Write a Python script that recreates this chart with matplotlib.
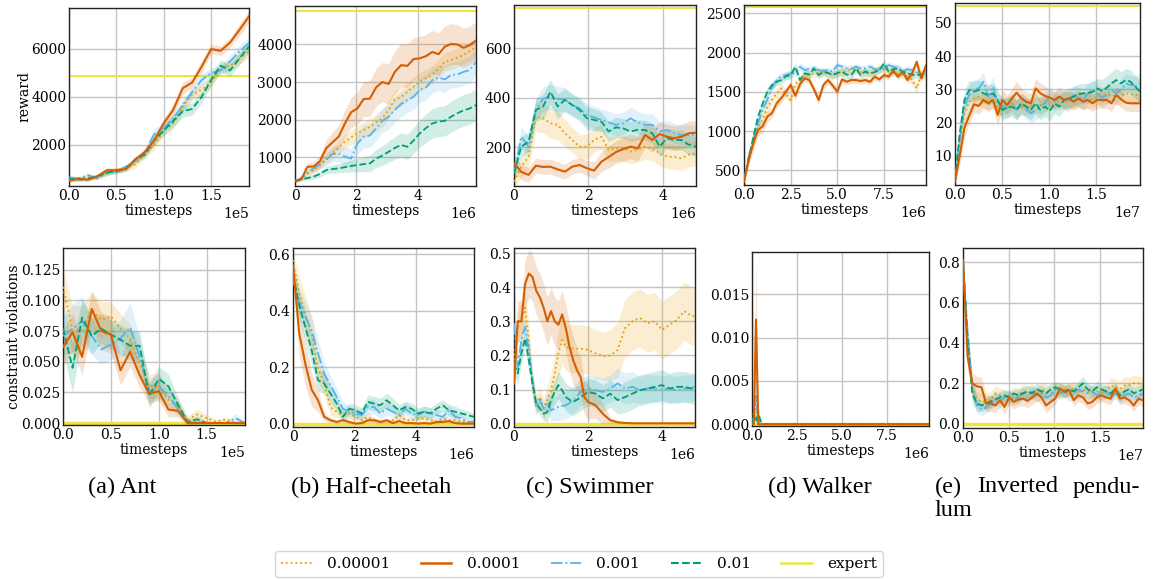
import numpy as np
import matplotlib
matplotlib.use('Agg')
import matplotlib.pyplot as plt
from matplotlib.lines import Line2D

# ---------------- data ----------------
lr_labels = ['0.00001', '0.0001', '0.001', '0.01', 'expert']
captions = ['(a) Ant', '(b) Half-cheetah', '(c) Swimmer', '(d) Walker']

# Ant, x in units of 1e5
ant_x = np.linspace(0, 1.9, 20)
ant_r_dot = [550, 600, 650, 700, 800, 950, 1000, 1200, 1600, 2000, 2600, 2900, 3600, 4100, 4300, 4600, 5200, 5300, 5600, 5900]
ant_r_solid = [500, 600, 550, 700, 950, 950, 1000, 1400, 1700, 2200, 2900, 3460, 4360, 4600, 5260, 5990, 5920, 6260, 6790, 7350]
ant_r_blue = [650, 600, 750, 600, 850, 900, 1100, 1300, 1700, 2450, 2700, 3100, 3650, 4200, 4700, 5000, 5100, 5470, 5900, 6240]
ant_r_green = [600, 550, 600, 700, 850, 900, 1000, 1400, 1600, 2200, 2600, 3000, 3400, 3500, 4000, 4700, 5300, 5100, 5600, 6100]
ant_r_sd_dot = [80, 80, 80, 80, 100, 100, 100, 150, 150, 200, 200, 250, 250, 250, 250, 200, 200, 250, 250, 250]
ant_r_sd_solid = [80, 80, 80, 80, 100, 100, 100, 120, 150, 200, 200, 250, 250, 200, 250, 200, 200, 200, 250, 250]
ant_r_sd_blue = [100, 80, 80, 80, 100, 100, 100, 100, 150, 250, 200, 200, 250, 250, 250, 200, 200, 250, 250, 250]
ant_r_sd_green = [80, 80, 80, 80, 100, 100, 100, 100, 150, 200, 200, 250, 250, 250, 250, 250, 250, 250, 250, 250]
ant_expert = 4870

ant_c_dot = [0.111, 0.076, 0.076, 0.092, 0.084, 0.087, 0.077, 0.069, 0.049, 0.030, 0.030, 0.019, 0.014, 0.003, 0.007, 0.004, 0.001, 0.003, 0.0, 0.0]
ant_c_solid = [0.062, 0.074, 0.054, 0.093, 0.075, 0.072, 0.043, 0.058, 0.039, 0.024, 0.026, 0.011, 0.010, 0.0, 0.0, 0.0, 0.0, 0.0, 0.0, 0.0]
ant_c_blue = [0.071, 0.077, 0.083, 0.071, 0.060, 0.064, 0.069, 0.078, 0.054, 0.026, 0.030, 0.022, 0.012, 0.001, 0.001, 0.0, 0.0, 0.0, 0.004, 0.0]
ant_c_green = [0.077, 0.045, 0.086, 0.071, 0.077, 0.072, 0.068, 0.063, 0.063, 0.022, 0.036, 0.030, 0.015, 0.001, 0.003, 0.0, 0.0, 0.0, 0.0, 0.0]
ant_c_sd_dot = [0.015, 0.02, 0.02, 0.015, 0.015, 0.012, 0.012, 0.012, 0.012, 0.01, 0.01, 0.008, 0.006, 0.003, 0.004, 0.003, 0.002, 0.002, 0.001, 0.001]
ant_c_sd_solid = [0.015, 0.015, 0.015, 0.015, 0.015, 0.015, 0.012, 0.012, 0.01, 0.008, 0.008, 0.006, 0.005, 0.002, 0.001, 0.0, 0.0, 0.0, 0.0, 0.0]
ant_c_sd_blue = [0.015, 0.02, 0.02, 0.015, 0.012, 0.012, 0.015, 0.02, 0.015, 0.01, 0.01, 0.008, 0.006, 0.002, 0.002, 0.001, 0.0, 0.0, 0.004, 0.0]
ant_c_sd_green = [0.02, 0.02, 0.015, 0.015, 0.012, 0.012, 0.012, 0.012, 0.012, 0.01, 0.01, 0.01, 0.006, 0.002, 0.003, 0.001, 0.0, 0.0, 0.0, 0.0]

# Half-cheetah, x in units of 1e6
hc_x = np.linspace(0, 5.9, 30)
hc_r_dot = [370, 450, 560, 660, 800, 950, 1100, 1250, 1420, 1530, 1650, 1730, 1810, 1930, 2040, 2260, 2540, 2600, 2740, 2880, 3010, 3100, 3190, 3350, 3540, 3580, 3650, 3720, 3820, 3940]
hc_r_solid = [370, 420, 750, 760, 900, 1240, 1400, 1550, 1900, 2200, 2300, 2550, 2560, 2860, 3000, 2950, 3270, 3450, 3430, 3610, 3630, 3690, 3800, 3740, 3940, 4010, 4000, 3910, 3980, 4100]
hc_r_blue = [370, 450, 600, 710, 820, 930, 1090, 1100, 1020, 970, 1370, 1550, 1580, 1770, 1970, 2080, 2260, 2420, 2520, 2610, 2790, 2860, 3050, 3120, 3070, 3190, 3200, 3270, 3320, 3540]
hc_r_green = [370, 420, 450, 490, 560, 660, 690, 710, 740, 770, 800, 820, 840, 970, 1050, 1150, 1250, 1330, 1280, 1450, 1640, 1780, 1900, 1950, 1970, 2080, 2170, 2250, 2300, 2390]
hc_r_sd_dot = [30, 50, 70, 90, 110, 130, 150, 170, 180, 190, 200, 210, 220, 230, 240, 240, 250, 250, 250, 250, 250, 250, 250, 250, 250, 250, 250, 250, 250, 250]
hc_r_sd_solid = [30, 60, 100, 130, 170, 220, 260, 300, 350, 400, 430, 460, 480, 500, 520, 540, 560, 570, 580, 580, 580, 580, 570, 560, 550, 540, 530, 520, 510, 500]
hc_r_sd_blue = [30, 50, 80, 100, 130, 160, 200, 220, 250, 270, 290, 300, 310, 320, 320, 330, 330, 330, 330, 330, 330, 340, 340, 340, 350, 350, 350, 350, 350, 350]
hc_r_sd_green = [30, 40, 60, 70, 80, 100, 110, 120, 140, 160, 180, 200, 220, 240, 260, 280, 300, 320, 340, 350, 360, 380, 390, 400, 400, 410, 410, 420, 420, 420]
hc_expert = 4900

hc_c_dot = [0.58, 0.46, 0.39, 0.32, 0.196, 0.142, 0.059, 0.042, 0.030, 0.036, 0.024, 0.012, 0.024, 0.012, 0.006, 0.006, 0.012, 0.030, 0.012, 0.012, 0.018, 0.018, 0.012, 0.006, 0.018, 0.012, 0.012, 0.006, 0.006, 0.006]
hc_c_solid = [0.56, 0.32, 0.21, 0.12, 0.083, 0.024, 0.012, 0.006, 0.012, 0.006, 0.0, 0.002, 0.012, 0.012, 0.006, 0.012, 0.002, 0.009, 0.002, 0.002, 0.0, 0.002, 0.0, 0.006, 0.006, 0.009, 0.002, 0.0, 0.0, 0.0]
hc_c_blue = [0.51, 0.43, 0.38, 0.33, 0.25, 0.178, 0.136, 0.095, 0.053, 0.042, 0.036, 0.030, 0.059, 0.059, 0.036, 0.053, 0.042, 0.030, 0.053, 0.036, 0.030, 0.042, 0.036, 0.030, 0.024, 0.047, 0.024, 0.018, 0.006, 0.006]
hc_c_green = [0.53, 0.42, 0.34, 0.26, 0.154, 0.142, 0.107, 0.071, 0.024, 0.053, 0.047, 0.036, 0.077, 0.071, 0.065, 0.083, 0.065, 0.047, 0.059, 0.053, 0.036, 0.042, 0.036, 0.053, 0.065, 0.047, 0.042, 0.036, 0.030, 0.024]
hc_c_sd_dot = [0.03, 0.06, 0.06, 0.06, 0.05, 0.04, 0.03, 0.02, 0.02, 0.02, 0.015, 0.01, 0.015, 0.01, 0.008, 0.008, 0.01, 0.02, 0.01, 0.01, 0.012, 0.012, 0.01, 0.008, 0.012, 0.01, 0.01, 0.008, 0.008, 0.008]
hc_c_sd_solid = [0.03, 0.08, 0.08, 0.06, 0.04, 0.015, 0.008, 0.005, 0.008, 0.005, 0.002, 0.003, 0.008, 0.008, 0.005, 0.008, 0.003, 0.006, 0.003, 0.003, 0.002, 0.003, 0.002, 0.005, 0.005, 0.006, 0.003, 0.001, 0.001, 0.001]
hc_c_sd_blue = [0.04, 0.05, 0.05, 0.05, 0.05, 0.04, 0.035, 0.03, 0.025, 0.02, 0.02, 0.02, 0.025, 0.025, 0.02, 0.025, 0.02, 0.02, 0.025, 0.02, 0.02, 0.02, 0.02, 0.02, 0.02, 0.02, 0.015, 0.012, 0.008, 0.008]
hc_c_sd_green = [0.04, 0.05, 0.05, 0.05, 0.04, 0.035, 0.03, 0.025, 0.02, 0.02, 0.02, 0.02, 0.025, 0.025, 0.025, 0.025, 0.025, 0.02, 0.02, 0.02, 0.02, 0.02, 0.02, 0.02, 0.02, 0.02, 0.02, 0.015, 0.015, 0.012]

# Swimmer, x in units of 1e6
sw_x = np.linspace(0, 4.89, 26)
sw_r_dot = [61, 121, 162, 323, 317, 296, 290, 256, 229, 202, 202, 229, 242, 189, 195, 195, 182, 190, 202, 195, 175, 162, 160, 155, 170, 175]
sw_r_solid = [135, 100, 88, 125, 120, 121, 110, 101, 121, 128, 115, 105, 141, 160, 180, 192, 202, 195, 249, 229, 253, 242, 236, 242, 256, 258]
sw_r_blue = [94, 242, 202, 350, 395, 404, 395, 391, 370, 357, 330, 320, 310, 300, 290, 296, 316, 300, 290, 290, 263, 269, 256, 249, 249, 250]
sw_r_green = [94, 202, 222, 350, 364, 424, 364, 391, 370, 350, 317, 310, 303, 263, 280, 276, 263, 270, 269, 256, 202, 236, 229, 229, 210, 202]
sw_r_sd_dot = [30, 40, 50, 60, 60, 60, 60, 55, 50, 50, 50, 50, 50, 50, 50, 50, 50, 50, 50, 50, 50, 50, 50, 50, 50, 50]
sw_r_sd_solid = [30, 30, 30, 30, 30, 30, 30, 30, 30, 30, 30, 35, 40, 45, 45, 50, 50, 50, 50, 50, 50, 50, 50, 50, 50, 50]
sw_r_sd_blue = [30, 40, 40, 45, 50, 50, 50, 50, 45, 45, 45, 45, 45, 45, 45, 45, 45, 45, 45, 45, 40, 40, 40, 40, 40, 40]
sw_r_sd_green = [30, 40, 40, 45, 50, 50, 50, 45, 45, 45, 45, 45, 40, 40, 40, 40, 40, 40, 40, 40, 40, 40, 40, 40, 40, 40]
sw_expert = 761

sw_c_x = [0.0, 0.1, 0.2, 0.3, 0.4, 0.5, 0.6, 0.7, 0.8, 0.9, 1.0, 1.1, 1.2, 1.3, 1.4, 1.5, 1.6, 1.7, 1.8, 1.9, 2.0,
          2.2, 2.4, 2.6, 2.8, 3.0, 3.2, 3.4, 3.6, 3.8, 4.0, 4.2, 4.4, 4.6, 4.8, 4.89]
sw_c_dot = [0.186, 0.28, 0.31, 0.34, 0.245, 0.108, 0.054, 0.078, 0.044, 0.069, 0.098, 0.147, 0.206, 0.245, 0.225, 0.222, 0.22, 0.22, 0.22, 0.218, 0.216,
            0.206, 0.198, 0.20, 0.216, 0.28, 0.30, 0.31, 0.294, 0.30, 0.275, 0.29, 0.304, 0.33, 0.316, 0.314]
sw_c_solid = [0.118, 0.30, 0.30, 0.41, 0.44, 0.43, 0.39, 0.37, 0.34, 0.30, 0.33, 0.30, 0.29, 0.32, 0.28, 0.225, 0.186, 0.157, 0.137, 0.078, 0.064,
              0.054, 0.029, 0.010, 0.004, 0.002, 0.001, 0.001, 0.001, 0.001, 0.001, 0.001, 0.001, 0.001, 0.001, 0.001]
sw_c_blue = [0.294, 0.167, 0.245, 0.284, 0.216, 0.127, 0.049, 0.069, 0.044, 0.064, 0.039, 0.044, 0.049, 0.052, 0.054, 0.060, 0.069, 0.080, 0.093, 0.098, 0.103,
             0.098, 0.093, 0.103, 0.118, 0.103, 0.108, 0.098, 0.103, 0.103, 0.10, 0.103, 0.098, 0.103, 0.103, 0.113]
sw_c_green = [0.176, 0.147, 0.206, 0.25, 0.186, 0.118, 0.059, 0.044, 0.029, 0.034, 0.069, 0.093, 0.113, 0.098, 0.078, 0.070, 0.064, 0.070, 0.078, 0.085, 0.093,
              0.088, 0.074, 0.088, 0.069, 0.078, 0.088, 0.098, 0.103, 0.108, 0.113, 0.103, 0.108, 0.108, 0.103, 0.10]
sw_c_sd_dot = [0.04, 0.05, 0.05, 0.05, 0.05, 0.04, 0.03, 0.03, 0.03, 0.04, 0.05, 0.06, 0.07, 0.07, 0.07, 0.07, 0.07, 0.07, 0.07, 0.07, 0.07,
               0.07, 0.07, 0.075, 0.08, 0.085, 0.085, 0.085, 0.085, 0.085, 0.085, 0.085, 0.085, 0.085, 0.085, 0.085]
sw_c_sd_solid = [0.05, 0.06, 0.06, 0.07, 0.07, 0.07, 0.07, 0.07, 0.07, 0.07, 0.07, 0.07, 0.07, 0.07, 0.07, 0.07, 0.07, 0.06, 0.06, 0.05, 0.05,
                 0.04, 0.03, 0.01, 0.005, 0.002, 0.001, 0.001, 0.001, 0.001, 0.001, 0.001, 0.001, 0.001, 0.001, 0.001]
sw_c_sd_blue = [0.03, 0.03, 0.03, 0.03, 0.03, 0.03, 0.02, 0.02, 0.02, 0.03, 0.03, 0.035, 0.04, 0.04, 0.04, 0.04, 0.04, 0.04, 0.04, 0.04, 0.04,
                0.04, 0.04, 0.04, 0.045, 0.045, 0.045, 0.04, 0.04, 0.04, 0.04, 0.04, 0.04, 0.04, 0.04, 0.04]
sw_c_sd_green = [0.03, 0.03, 0.03, 0.03, 0.03, 0.03, 0.02, 0.02, 0.02, 0.03, 0.03, 0.035, 0.04, 0.04, 0.04, 0.04, 0.04, 0.04, 0.04, 0.04, 0.04,
                 0.04, 0.04, 0.04, 0.04, 0.045, 0.045, 0.045, 0.045, 0.045, 0.045, 0.045, 0.045, 0.045, 0.045, 0.045]

# Walker, x in units of 1e6
wk_x = np.linspace(0, 9.78, 40)
wk_r_dot = [360, 620, 850, 1050, 1150, 1300, 1400, 1480, 1544, 1470, 1396, 1600, 1650, 1713, 1720, 1734, 1740, 1755, 1730, 1713,
            1740, 1755, 1760, 1798, 1790, 1755, 1740, 1734, 1760, 1798, 1780, 1755, 1740, 1734, 1720, 1700, 1650, 1544, 1734, 1692]
wk_r_solid = [360, 635, 846, 1015, 1060, 1184, 1230, 1354, 1420, 1502, 1586, 1450, 1600, 1671, 1650, 1530, 1396, 1586, 1650, 1580,
              1502, 1658, 1628, 1650, 1650, 1637, 1650, 1628, 1692, 1658, 1713, 1692, 1768, 1692, 1755, 1650, 1734, 1882, 1671, 1840]
wk_r_blue = [360, 680, 900, 1100, 1269, 1400, 1550, 1650, 1700, 1713, 1734, 1740, 1819, 1777, 1790, 1798, 1777, 1760, 1777, 1760,
             1840, 1820, 1798, 1790, 1819, 1798, 1800, 1819, 1790, 1777, 1800, 1840, 1819, 1800, 1755, 1790, 1777, 1750, 1713, 1798]
wk_r_green = [360, 650, 920, 1180, 1350, 1500, 1586, 1628, 1650, 1700, 1713, 1819, 1650, 1734, 1720, 1798, 1713, 1755, 1740, 1713,
              1740, 1755, 1720, 1713, 1798, 1713, 1760, 1734, 1750, 1777, 1861, 1755, 1790, 1798, 1755, 1740, 1713, 1720, 1713, 1755]
wk_r_sd_dot = [30, 60, 80, 90, 90, 80, 70, 70, 60, 60, 60, 50, 50, 50, 50, 50, 50, 50, 50, 50,
               50, 50, 50, 50, 50, 50, 50, 50, 50, 50, 50, 50, 50, 50, 50, 50, 60, 70, 60, 60]
wk_r_sd_solid = [30, 60, 80, 80, 80, 70, 60, 60, 60, 60, 60, 60, 50, 50, 50, 50, 60, 50, 50, 50,
                 50, 50, 40, 40, 40, 40, 40, 40, 40, 40, 40, 40, 40, 40, 40, 40, 40, 50, 50, 50]
wk_r_sd_blue = [30, 60, 70, 70, 70, 60, 50, 50, 50, 50, 50, 50, 50, 50, 40, 40, 40, 40, 40, 40,
                40, 40, 40, 40, 40, 40, 40, 40, 40, 40, 40, 40, 40, 40, 40, 40, 40, 40, 40, 40]
wk_r_sd_green = [30, 60, 70, 70, 70, 60, 50, 50, 50, 50, 50, 50, 50, 50, 50, 50, 50, 50, 50, 50,
                 50, 50, 50, 50, 50, 50, 50, 50, 50, 50, 50, 50, 50, 50, 50, 50, 50, 50, 50, 50]
wk_expert = 2575

wk_c_x = [0.0, 0.1, 0.22, 0.35, 0.45, 0.55, 0.7, 1.0, 2.0, 3.0, 4.0, 5.0, 6.0, 7.0, 8.0, 9.0, 9.83]
wk_c_dot = [0.0, 0.0015, 0.0018, 0.0005, 0.0002, 0.0, 0.0, 0.0, 0.0, 0.0, 0.0, 0.0, 0.0, 0.0, 0.0, 0.0, 0.0]
wk_c_solid = [0.0, 0.0, 0.0121, 0.0, 0.0, 0.0, 0.0, 0.0, 0.0, 0.0, 0.0, 0.0, 0.0, 0.0, 0.0, 0.0, 0.0]
wk_c_blue = [0.0, 0.0005, 0.0033, 0.0003, 0.0, 0.0, 0.0, 0.0, 0.0, 0.0, 0.0, 0.0, 0.0, 0.0, 0.0, 0.0, 0.0]
wk_c_green = [0.0, 0.0012, 0.0003, 0.0012, 0.0006, 0.0, 0.0, 0.0, 0.0, 0.0, 0.0, 0.0, 0.0, 0.0, 0.0, 0.0, 0.0]
wk_c_sd_dot = [0.0, 0.001, 0.0012, 0.0004, 0.0002, 0.0, 0.0, 0.0, 0.0, 0.0, 0.0, 0.0, 0.0, 0.0, 0.0, 0.0, 0.0]
wk_c_sd_solid = [0.0, 0.0005, 0.007, 0.0005, 0.0, 0.0, 0.0, 0.0, 0.0, 0.0, 0.0, 0.0, 0.0, 0.0, 0.0, 0.0, 0.0]
wk_c_sd_blue = [0.0, 0.0005, 0.002, 0.0003, 0.0, 0.0, 0.0, 0.0, 0.0, 0.0, 0.0, 0.0, 0.0, 0.0, 0.0, 0.0, 0.0]
wk_c_sd_green = [0.0, 0.0008, 0.0003, 0.0008, 0.0004, 0.0, 0.0, 0.0, 0.0, 0.0, 0.0, 0.0, 0.0, 0.0, 0.0, 0.0, 0.0]

# Inverted pendulum, x in units of 1e7
ip_x = np.linspace(0, 1.97, 40)
ip_r_dot = [2.3, 14.8, 22.8, 26.3, 27.3, 27.8, 26.8, 26.3, 26.8, 24.3, 24.8, 25.3, 25.8, 24.3, 24.5, 24.8, 24.8, 25.3, 25.3, 25.8,
            26.3, 26.8, 26.3, 26.8, 26.3, 26.5, 26.8, 26.8, 26.8, 27.0, 27.8, 27.8, 28.3, 28.3, 27.8, 28.0, 28.8, 28.5, 28.3, 28.3]
ip_r_solid = [2.3, 10.0, 18.5, 22.0, 25.5, 25.0, 26.8, 25.8, 26.8, 22.3, 26.8, 25.3, 27.3, 29.0, 27.3, 26.3, 25.8, 30.3, 28.8, 28.0,
              27.5, 26.8, 27.8, 26.8, 27.3, 26.3, 27.3, 26.3, 26.8, 25.8, 26.8, 26.8, 26.8, 25.8, 28.3, 27.0, 26.0, 25.8, 25.8, 25.8]
ip_r_blue = [2.8, 14.8, 25.0, 28.3, 30.0, 30.3, 32.3, 27.8, 30.8, 25.8, 25.0, 24.3, 25.8, 23.8, 25.8, 24.0, 22.8, 23.8, 24.8, 26.0,
             27.8, 26.3, 27.8, 26.8, 26.3, 28.3, 27.8, 26.8, 28.8, 29.8, 28.8, 27.5, 28.5, 29.8, 28.8, 30.0, 31.8, 31.3, 31.0, 31.8]
ip_r_green = [2.8, 16.8, 26.8, 29.8, 29.3, 29.8, 28.8, 28.3, 28.8, 26.8, 23.8, 24.5, 24.8, 23.8, 25.8, 24.8, 23.8, 25.8, 23.8, 24.8,
              23.5, 25.8, 24.8, 26.8, 27.3, 27.8, 28.5, 28.8, 28.8, 29.3, 30.3, 29.5, 30.5, 31.8, 32.8, 31.8, 32.8, 32.3, 30.8, 29.3]
ip_r_sd_dot = [1.0, 3.0, 3.0, 2.5, 2.5, 2.5, 2.5, 2.5, 2.5, 2.5, 2.5, 2.5, 2.5, 2.5, 2.5, 2.5, 2.5, 2.5, 2.5, 2.5,
               2.5, 2.5, 2.5, 2.5, 2.5, 2.5, 2.5, 2.5, 2.5, 2.5, 2.5, 2.5, 2.5, 2.5, 2.5, 2.5, 2.5, 2.5, 2.5, 2.5]
ip_r_sd_solid = [1.0, 3.0, 3.0, 2.5, 2.5, 2.5, 2.5, 2.5, 2.5, 3.0, 3.0, 3.0, 3.0, 3.5, 3.0, 3.0, 3.0, 3.0, 3.0, 3.0,
                 2.5, 2.5, 2.5, 2.5, 2.5, 2.5, 2.5, 2.5, 2.5, 2.5, 2.5, 2.5, 2.5, 2.5, 2.5, 2.5, 2.5, 2.5, 2.5, 2.5]
ip_r_sd_blue = [1.0, 3.0, 3.0, 3.0, 3.0, 3.0, 3.0, 3.0, 3.0, 3.0, 3.0, 3.0, 3.0, 3.0, 3.0, 3.0, 3.0, 3.0, 3.0, 3.0,
                3.0, 3.0, 3.0, 3.0, 3.0, 3.0, 3.0, 3.0, 3.0, 3.0, 3.0, 3.0, 3.0, 3.0, 3.0, 3.0, 3.0, 3.0, 3.0, 3.0]
ip_r_sd_green = [1.0, 3.0, 3.0, 3.0, 3.0, 3.0, 3.0, 3.0, 3.0, 3.0, 3.0, 3.0, 3.0, 3.0, 3.0, 3.0, 3.0, 3.0, 3.0, 3.0,
                 3.0, 3.0, 3.0, 3.0, 3.0, 3.0, 3.0, 3.0, 3.0, 3.0, 3.0, 3.5, 3.5, 3.5, 3.5, 3.5, 3.5, 3.5, 3.5, 3.5]
ip_expert = 55.1

ip_c_dot = [0.79, 0.40, 0.17, 0.12, 0.11, 0.11, 0.12, 0.15, 0.14, 0.13, 0.12, 0.13, 0.14, 0.16, 0.15, 0.16, 0.14, 0.17, 0.16, 0.15,
            0.17, 0.16, 0.17, 0.16, 0.18, 0.16, 0.17, 0.16, 0.15, 0.16, 0.15, 0.16, 0.19, 0.18, 0.17, 0.19, 0.19, 0.20, 0.20, 0.19]
ip_c_solid = [0.81, 0.33, 0.20, 0.185, 0.18, 0.10, 0.10, 0.09, 0.116, 0.083, 0.13, 0.108, 0.12, 0.124, 0.113, 0.13, 0.15, 0.13, 0.09, 0.108,
              0.124, 0.174, 0.157, 0.166, 0.116, 0.14, 0.13, 0.10, 0.108, 0.13, 0.14, 0.13, 0.124, 0.174, 0.124, 0.13, 0.116, 0.09, 0.124, 0.116]
ip_c_blue = [0.80, 0.45, 0.18, 0.09, 0.07, 0.08, 0.10, 0.12, 0.11, 0.13, 0.14, 0.12, 0.13, 0.15, 0.13, 0.16, 0.14, 0.15, 0.13, 0.14,
             0.17, 0.15, 0.16, 0.14, 0.15, 0.17, 0.16, 0.15, 0.16, 0.14, 0.15, 0.16, 0.14, 0.15, 0.13, 0.14, 0.15, 0.13, 0.14, 0.15]
ip_c_green = [0.80, 0.42, 0.15, 0.10, 0.09, 0.10, 0.11, 0.12, 0.13, 0.14, 0.13, 0.15, 0.14, 0.15, 0.16, 0.15, 0.17, 0.16, 0.15, 0.17,
              0.18, 0.17, 0.16, 0.17, 0.16, 0.18, 0.20, 0.17, 0.16, 0.18, 0.17, 0.16, 0.15, 0.17, 0.14, 0.16, 0.17, 0.15, 0.16, 0.17]
ip_c_sd_dot = [0.02, 0.06, 0.05, 0.04, 0.04, 0.04, 0.04, 0.04, 0.035, 0.035, 0.035, 0.035, 0.035, 0.035, 0.035, 0.035, 0.035, 0.035, 0.035, 0.035,
               0.035, 0.035, 0.035, 0.035, 0.035, 0.035, 0.035, 0.035, 0.035, 0.035, 0.035, 0.035, 0.04, 0.04, 0.04, 0.04, 0.04, 0.04, 0.04, 0.04]
ip_c_sd_solid = [0.02, 0.06, 0.05, 0.05, 0.05, 0.04, 0.04, 0.035, 0.035, 0.035, 0.035, 0.035, 0.035, 0.035, 0.035, 0.035, 0.035, 0.035, 0.035, 0.035,
                 0.03, 0.03, 0.03, 0.03, 0.03, 0.03, 0.03, 0.03, 0.03, 0.03, 0.03, 0.03, 0.03, 0.03, 0.03, 0.03, 0.03, 0.03, 0.03, 0.03]
ip_c_sd_blue = [0.02, 0.06, 0.05, 0.04, 0.03, 0.03, 0.03, 0.03, 0.03, 0.03, 0.03, 0.03, 0.03, 0.03, 0.03, 0.03, 0.03, 0.03, 0.03, 0.03,
                0.03, 0.03, 0.03, 0.03, 0.03, 0.03, 0.03, 0.03, 0.03, 0.03, 0.03, 0.03, 0.03, 0.03, 0.03, 0.03, 0.03, 0.03, 0.03, 0.03]
ip_c_sd_green = [0.02, 0.06, 0.05, 0.04, 0.03, 0.03, 0.03, 0.03, 0.03, 0.03, 0.03, 0.03, 0.03, 0.03, 0.03, 0.03, 0.03, 0.03, 0.03, 0.03,
                 0.03, 0.03, 0.03, 0.03, 0.03, 0.03, 0.035, 0.03, 0.03, 0.03, 0.03, 0.03, 0.03, 0.03, 0.03, 0.03, 0.03, 0.03, 0.03, 0.03]

# ---------------- style ----------------
plt.rcParams['font.family'] = 'DejaVu Serif'
plt.rcParams['font.size'] = 10

C_DOT = '#e69f00'
C_SOLID = '#d55e00'
C_BLUE = '#56b4e9'
C_GREEN = '#009e73'
C_EXP = '#f0e442'

STYLES = [(C_DOT, ':', 1.3), (C_BLUE, '-.', 1.3), (C_GREEN, '--', 1.3), (C_SOLID, '-', 1.5)]

W, H = 1154, 579
fig = plt.figure(figsize=(W / 100, H / 100), dpi=100)


def box(l, t, r, b):
    return [l / W, 1 - b / H, (r - l) / W, (b - t) / H]


def panel(rect, x, scale, series, sds, expert, exp_lw, xlim, ylim, xticks, yticks, ylabel=None):
    ax = fig.add_axes(box(*rect))
    x = np.asarray(x) * scale
    ax.axhline(expert, color=C_EXP, lw=exp_lw, zorder=1.5)
    for (col, ls, lw), y, sd in zip(STYLES, series, sds):
        y = np.asarray(y)
        sd = np.asarray(sd)
        ax.fill_between(x, y - sd, y + sd, color=col, alpha=0.18, lw=0, zorder=2)
        ax.plot(x, y, color=col, ls=ls, lw=lw, zorder=3)
    ax.set_xlim(0, xlim * scale)
    ax.set_ylim(*ylim)
    ax.set_xticks(np.asarray(xticks) * scale)
    ax.set_yticks(yticks)
    ax.ticklabel_format(axis='x', style='sci', scilimits=(0, 0))
    ax.grid(True, color='#c4c4c4', lw=1.0)
    ax.set_axisbelow(True)
    ax.tick_params(length=0, pad=2, labelsize=10)
    for s in ax.spines.values():
        s.set_color('#222222')
        s.set_linewidth(1.0)
    ax.set_xlabel('timesteps', labelpad=1)
    if ylabel:
        ax.set_ylabel(ylabel, labelpad=0)
    return ax


# reward row
panel((69, 8, 249, 186), ant_x, 1e5, [ant_r_dot, ant_r_blue, ant_r_green, ant_r_solid],
      [ant_r_sd_dot, ant_r_sd_blue, ant_r_sd_green, ant_r_sd_solid], ant_expert, 1.5,
      1.9, (292, 7700), [0, 0.5, 1.0, 1.5], [2000, 4000, 6000], 'reward')
panel((295, 6, 476, 186), hc_x, 1e6, [hc_r_dot, hc_r_blue, hc_r_green, hc_r_solid],
      [hc_r_sd_dot, hc_r_sd_blue, hc_r_sd_green, hc_r_sd_solid], hc_expert, 1.5,
      5.9, (240, 5020), [0, 2, 4], [1000, 2000, 3000, 4000])
panel((514, 5, 696, 186), sw_x, 1e6, [sw_r_dot, sw_r_blue, sw_r_green, sw_r_solid],
      [sw_r_sd_dot, sw_r_sd_blue, sw_r_sd_green, sw_r_sd_solid], sw_expert, 1.5,
      4.89, (43, 774), [0, 2, 4], [200, 400, 600])
panel((744, 5, 926, 185), wk_x, 1e6, [wk_r_dot, wk_r_blue, wk_r_green, wk_r_solid],
      [wk_r_sd_dot, wk_r_sd_blue, wk_r_sd_green, wk_r_sd_solid], wk_expert, 1.5,
      9.78, (313, 2606), [0, 2.5, 5.0, 7.5], [500, 1000, 1500, 2000, 2500])
panel((955, 3, 1140, 185), ip_x, 1e7, [ip_r_dot, ip_r_blue, ip_r_green, ip_r_solid],
      [ip_r_sd_dot, ip_r_sd_blue, ip_r_sd_green, ip_r_sd_solid], ip_expert, 1.5,
      1.97, (1.2, 56), [0, 0.5, 1.0, 1.5], [10, 20, 30, 40, 50])

# constraint row
panel((63, 248, 245, 425), ant_x, 1e5, [ant_c_dot, ant_c_blue, ant_c_green, ant_c_solid],
      [ant_c_sd_dot, ant_c_sd_blue, ant_c_sd_green, ant_c_sd_solid], 0, 2.5,
      1.9, (-0.0016, 0.1427), [0, 0.5, 1.0, 1.5], [0, 0.025, 0.05, 0.075, 0.1, 0.125],
      'constraint violations')
panel((293, 248, 474, 427), hc_x, 1e6, [hc_c_dot, hc_c_blue, hc_c_green, hc_c_solid],
      [hc_c_sd_dot, hc_c_sd_blue, hc_c_sd_green, hc_c_sd_solid], 0, 2.5,
      5.9, (-0.012, 0.623), [0, 2, 4], [0, 0.2, 0.4, 0.6])
panel((514, 248, 695, 427), sw_c_x, 1e6, [sw_c_dot, sw_c_blue, sw_c_green, sw_c_solid],
      [sw_c_sd_dot, sw_c_sd_blue, sw_c_sd_green, sw_c_sd_solid], 0, 2.5,
      4.89, (-0.0098, 0.515), [0, 2, 4], [0, 0.1, 0.2, 0.3, 0.4, 0.5])
panel((752, 252, 929, 426), wk_c_x, 1e6, [wk_c_dot, wk_c_blue, wk_c_green, wk_c_solid],
      [wk_c_sd_dot, wk_c_sd_blue, wk_c_sd_green, wk_c_sd_solid], 0, 2.5,
      9.83, (-0.0002, 0.0199), [0, 2.5, 5.0, 7.5], [0, 0.005, 0.01, 0.015])
panel((963, 248, 1143, 428), ip_x, 1e7, [ip_c_dot, ip_c_blue, ip_c_green, ip_c_solid],
      [ip_c_sd_dot, ip_c_sd_blue, ip_c_sd_green, ip_c_sd_solid], 0, 2.5,
      1.97, (-0.0215, 0.87), [0, 0.5, 1.0, 1.5], [0, 0.2, 0.4, 0.6, 0.8])

# sub-captions
cap_font = dict(family='Liberation Serif', size=17.5, va='center')
for xpos, text in zip([88, 291, 526, 768], captions):
    fig.text(xpos / W, 1 - 487 / H, text, ha='left', **cap_font)

# caption (e) is justified over two lines
t_e = fig.text(935 / W, 1 - 487 / H, '(e)', ha='left', **cap_font)
t_p = fig.text(1140 / W, 1 - 487 / H, 'pendu-', ha='right', **cap_font)
t_i = fig.text(1040 / W, 1 - 487 / H, 'Inverted', ha='center', **cap_font)
fig.text(935 / W, 1 - 511 / H, 'lum', ha='left', **cap_font)
renderer = fig.canvas.get_renderer()
e_box = t_e.get_window_extent(renderer)
p_box = t_p.get_window_extent(renderer)
t_i.set_x((e_box.x1 + p_box.x0) / 2 / W)

# legend
handles = [Line2D([], [], color=C_DOT, ls=':', lw=1.3),
           Line2D([], [], color=C_SOLID, ls='-', lw=1.8),
           Line2D([], [], color=C_BLUE, ls='-.', lw=1.3),
           Line2D([], [], color=C_GREEN, ls='--', lw=1.5),
           Line2D([], [], color=C_EXP, ls='-', lw=1.8)]
fig.legend(handles, lr_labels, loc='center', bbox_to_anchor=(579 / W, 1 - 564 / H), ncol=5,
           fontsize=11, handlelength=2.0, handletextpad=1.0, columnspacing=2.0,
           frameon=True, borderpad=0.4)

fig.savefig('out.png', dpi=100)
